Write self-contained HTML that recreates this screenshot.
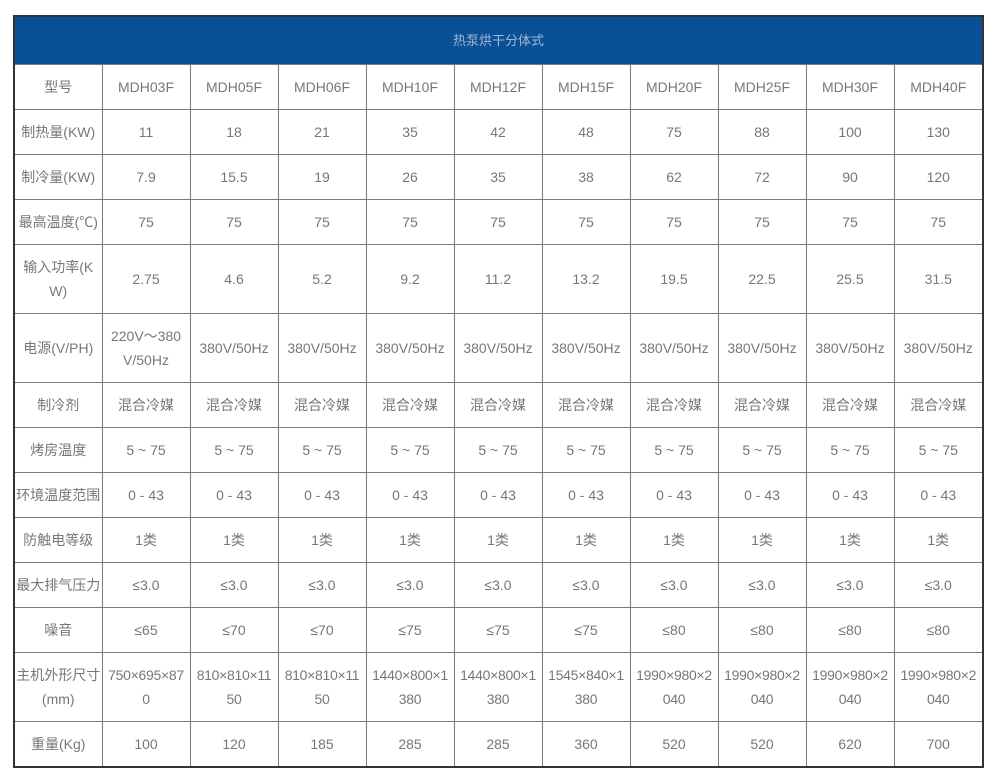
<!DOCTYPE html>
<html><head><meta charset="utf-8"><style>
html,body{margin:0;padding:0;background:#fff;width:1001px;height:782px;overflow:hidden}
table{position:absolute;left:13px;top:15px;width:969px;border-collapse:collapse;table-layout:fixed;border:2px solid #333;font-family:"Liberation Sans","Noto Sans CJK SC",sans-serif;font-size:14px;color:#777}
td{border:1px solid #7a7a7a;text-align:center;vertical-align:middle;padding:0;line-height:24px;white-space:nowrap;overflow:hidden}
tr.h td{background:#0a5096;color:#9fb6d4;height:47px;font-size:13px}
tr.r1 td{height:44px}
tr.r2 td{height:68px}
.s{letter-spacing:-0.3px}
</style></head><body>
<table>
<colgroup><col style="width:88px"><col style="width:88px"><col style="width:88px"><col style="width:88px"><col style="width:88px"><col style="width:88px"><col style="width:88px"><col style="width:88px"><col style="width:88px"><col style="width:88px"><col style="width:89px"></colgroup>
<tr class="h"><td colspan="11">热泵烘干分体式</td></tr>
<tr class="r1"><td>型号</td><td>MDH03F</td><td>MDH05F</td><td>MDH06F</td><td>MDH10F</td><td>MDH12F</td><td>MDH15F</td><td>MDH20F</td><td>MDH25F</td><td>MDH30F</td><td>MDH40F</td></tr>
<tr class="r1"><td>制热量(KW)</td><td>11</td><td>18</td><td>21</td><td>35</td><td>42</td><td>48</td><td>75</td><td>88</td><td>100</td><td>130</td></tr>
<tr class="r1"><td>制冷量(KW)</td><td>7.9</td><td>15.5</td><td>19</td><td>26</td><td>35</td><td>38</td><td>62</td><td>72</td><td>90</td><td>120</td></tr>
<tr class="r1"><td>最高温度(℃)</td><td>75</td><td>75</td><td>75</td><td>75</td><td>75</td><td>75</td><td>75</td><td>75</td><td>75</td><td>75</td></tr>
<tr class="r2"><td>输入功率(K<br>W)</td><td>2.75</td><td>4.6</td><td>5.2</td><td>9.2</td><td>11.2</td><td>13.2</td><td>19.5</td><td>22.5</td><td>25.5</td><td>31.5</td></tr>
<tr class="r2"><td>电源(V/PH)</td><td>220V～380<br>V/50Hz</td><td>380V/50Hz</td><td>380V/50Hz</td><td>380V/50Hz</td><td>380V/50Hz</td><td>380V/50Hz</td><td>380V/50Hz</td><td>380V/50Hz</td><td>380V/50Hz</td><td>380V/50Hz</td></tr>
<tr class="r1"><td>制冷剂</td><td>混合冷媒</td><td>混合冷媒</td><td>混合冷媒</td><td>混合冷媒</td><td>混合冷媒</td><td>混合冷媒</td><td>混合冷媒</td><td>混合冷媒</td><td>混合冷媒</td><td>混合冷媒</td></tr>
<tr class="r1"><td>烤房温度</td><td>5 ~ 75</td><td>5 ~ 75</td><td>5 ~ 75</td><td>5 ~ 75</td><td>5 ~ 75</td><td>5 ~ 75</td><td>5 ~ 75</td><td>5 ~ 75</td><td>5 ~ 75</td><td>5 ~ 75</td></tr>
<tr class="r1"><td>环境温度范围</td><td>0 - 43</td><td>0 - 43</td><td>0 - 43</td><td>0 - 43</td><td>0 - 43</td><td>0 - 43</td><td>0 - 43</td><td>0 - 43</td><td>0 - 43</td><td>0 - 43</td></tr>
<tr class="r1"><td>防触电等级</td><td>1类</td><td>1类</td><td>1类</td><td>1类</td><td>1类</td><td>1类</td><td>1类</td><td>1类</td><td>1类</td><td>1类</td></tr>
<tr class="r1"><td>最大排气压力</td><td>≤3.0</td><td>≤3.0</td><td>≤3.0</td><td>≤3.0</td><td>≤3.0</td><td>≤3.0</td><td>≤3.0</td><td>≤3.0</td><td>≤3.0</td><td>≤3.0</td></tr>
<tr class="r1"><td>噪音</td><td>≤65</td><td>≤70</td><td>≤70</td><td>≤75</td><td>≤75</td><td>≤75</td><td>≤80</td><td>≤80</td><td>≤80</td><td>≤80</td></tr>
<tr class="r2"><td>主机外形尺寸<br>(mm)</td><td class="s">750×695×87<br>0</td><td class="s">810×810×11<br>50</td><td class="s">810×810×11<br>50</td><td class="s">1440×800×1<br>380</td><td class="s">1440×800×1<br>380</td><td class="s">1545×840×1<br>380</td><td class="s">1990×980×2<br>040</td><td class="s">1990×980×2<br>040</td><td class="s">1990×980×2<br>040</td><td class="s">1990×980×2<br>040</td></tr>
<tr class="r1"><td>重量(Kg)</td><td>100</td><td>120</td><td>185</td><td>285</td><td>285</td><td>360</td><td>520</td><td>520</td><td>620</td><td>700</td></tr>
</table>
</body></html>
